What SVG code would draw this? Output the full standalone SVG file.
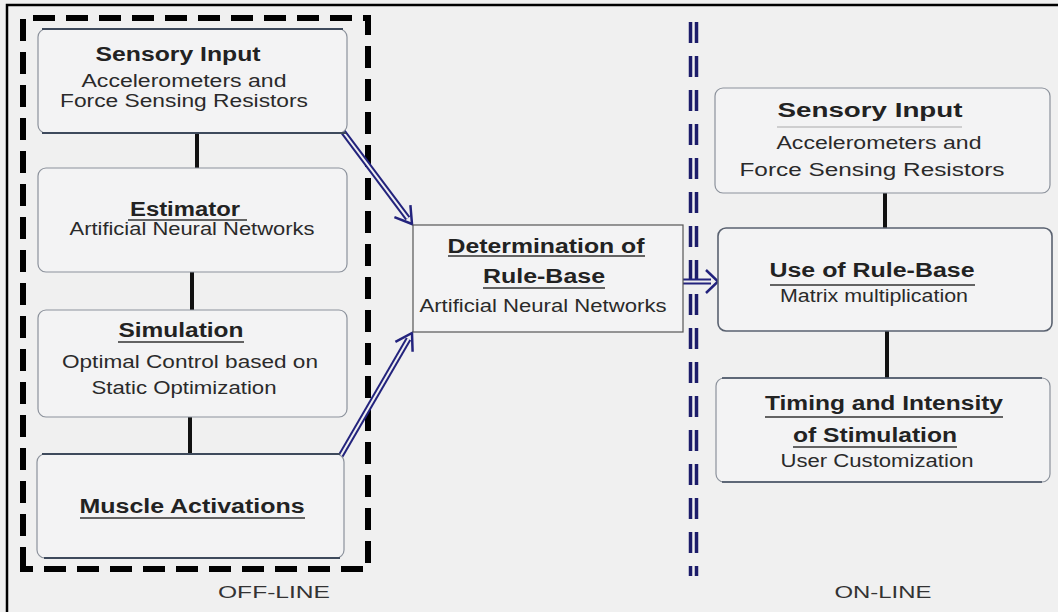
<svg xmlns="http://www.w3.org/2000/svg" width="1058" height="612" viewBox="0 0 1058 612">
<style>
.bg{fill:#f0f0f0}
.box{fill:#f3f3f4;stroke:#8c929c;stroke-width:1.2}
.dark{stroke:#3e4a5c;stroke-width:2;fill:none}
.t{font-family:"Liberation Sans",Arial,sans-serif;fill:#222;text-anchor:middle}
.b{font-weight:bold;font-size:20px}
.r{font-size:17.5px;fill:#2a2a2a}
.ul{stroke:#333;stroke-width:1.5}
.lul{stroke:#aaa;stroke-width:1.2}
.conn{stroke:#111;stroke-width:4}
.shaft{fill:none;stroke:#23237d;stroke-width:6}
.shaftin{fill:none;stroke:#f0f0f0;stroke-width:2}
.head{fill:none;stroke:#23237d;stroke-width:2.5;stroke-linejoin:miter}
.lab{font-family:"Liberation Sans",Arial,sans-serif;font-size:17px;fill:#333;text-anchor:middle}
.div{stroke:#1c1c6a;stroke-width:3.5;stroke-dasharray:21 13}
</style>
<rect class="bg" x="0" y="0" width="1058" height="612"/>
<path d="M7,614 V5 H1060" fill="none" stroke="#000" stroke-width="2.5"/>

<!-- off-line dashed container -->
<path d="M23,569 V18 H368 V569 Z" fill="none" stroke="#000" stroke-width="6" stroke-dasharray="22 11"/>
<!-- on-line divider -->
<g id="divider">
<line class="div" x1="690.5" y1="22" x2="690.5" y2="576"/>
<line class="div" x1="696.5" y1="22" x2="696.5" y2="576"/>
</g>

<g id="connectors">
<line class="conn" x1="197" y1="133" x2="197" y2="168"/>
<line class="conn" x1="192" y1="272" x2="192" y2="310"/>
<line class="conn" x1="190" y1="417" x2="190" y2="454"/>
<line class="conn" x1="885" y1="193" x2="885" y2="228"/>
<line class="conn" x1="887" y1="331" x2="887" y2="378"/>
<!-- arrow 1 -->
<path class="shaft" d="M341,129 L407.8,218.4"/>
<path class="shaftin" d="M339.5,127 L407.8,218.4"/>
<polyline class="head" points="394.4,217.2 412,224 410.4,205.2"/>
<!-- arrow 2 -->
<path class="shaft" d="M340,457 L408.5,339"/>
<path class="shaftin" d="M338.8,459 L408.5,339"/>
<polyline class="head" points="395.4,341.8 412,333 412.6,351.8"/>
<!-- arrow 3 -->
<path class="shaft" d="M683,281.5 H711"/>
<path class="shaftin" d="M681,281.5 H711"/>
<polyline class="head" points="706,270 718,281.5 706,293"/>
</g>

<g id="sensory-left">
<rect class="box" x="38" y="29" width="309" height="104" rx="8"/>
<line class="dark" x1="42" y1="29" x2="343" y2="29"/>
<line class="dark" x1="42" y1="133" x2="346" y2="133"/>
<text class="t b" x="178" y="61" textLength="165" lengthAdjust="spacingAndGlyphs">Sensory Input</text>
<text class="t r" x="184" y="87" textLength="205" lengthAdjust="spacingAndGlyphs">Accelerometers and</text>
<text class="t r" x="184" y="107" textLength="248" lengthAdjust="spacingAndGlyphs">Force Sensing Resistors</text>
</g>

<g id="estimator">
<rect class="box" x="38" y="168" width="309" height="104" rx="8"/>
<text class="t b" x="185" y="216" textLength="110" lengthAdjust="spacingAndGlyphs">Estimator</text>
<line class="ul" x1="128" y1="220" x2="247" y2="220"/>
<text class="t r" x="192" y="235" textLength="245" lengthAdjust="spacingAndGlyphs">Artificial Neural Networks</text>
</g>

<g id="simulation">
<rect class="box" x="38" y="310" width="309" height="107" rx="8"/>
<text class="t b" x="181" y="337" textLength="125" lengthAdjust="spacingAndGlyphs">Simulation</text>
<line class="ul" x1="118" y1="342" x2="244" y2="342"/>
<text class="t r" x="190" y="368" textLength="256" lengthAdjust="spacingAndGlyphs">Optimal Control based on</text>
<text class="t r" x="184" y="394" textLength="185" lengthAdjust="spacingAndGlyphs">Static Optimization</text>
</g>

<g id="muscle">
<rect class="box" x="37" y="454" width="307" height="104" rx="8"/>
<line class="dark" x1="42" y1="454" x2="340" y2="454"/>
<line class="dark" x1="44" y1="558" x2="340" y2="558"/>
<text class="t b" x="192" y="513" textLength="225" lengthAdjust="spacingAndGlyphs">Muscle Activations</text>
<line class="ul" x1="80" y1="518" x2="305" y2="518"/>
</g>

<g id="determination">
<rect x="413" y="225" width="270" height="107" fill="#f3f3f4" stroke="#555" stroke-width="1.2"/>
<text class="t b" x="546" y="253" textLength="197" lengthAdjust="spacingAndGlyphs">Determination of</text>
<line class="ul" x1="448" y1="256" x2="645" y2="256"/>
<text class="t b" x="544" y="283" textLength="122" lengthAdjust="spacingAndGlyphs">Rule-Base</text>
<line class="ul" x1="483" y1="288" x2="605" y2="288"/>
<text class="t r" x="543" y="312" textLength="247" lengthAdjust="spacingAndGlyphs">Artificial Neural Networks</text>
</g>

<g id="sensory-right">
<rect class="box" x="715" y="88" width="335" height="105" rx="8"/>
<text class="t b" x="870" y="117" textLength="185" lengthAdjust="spacingAndGlyphs">Sensory Input</text>
<line class="lul" x1="777" y1="127" x2="962" y2="127"/>
<text class="t r" x="879" y="149" textLength="205" lengthAdjust="spacingAndGlyphs">Accelerometers and</text>
<text class="t r" x="872" y="176" textLength="265" lengthAdjust="spacingAndGlyphs">Force Sensing Resistors</text>
</g>

<g id="use-rule-base">
<rect class="box" x="718" y="228" width="334" height="103" rx="8" style="stroke:#5a6270;stroke-width:1.6"/>
<text class="t b" x="872" y="277" textLength="205" lengthAdjust="spacingAndGlyphs">Use of Rule-Base</text>
<line class="ul" x1="770" y1="285" x2="975" y2="285"/>
<text class="t r" x="874" y="302" textLength="188" lengthAdjust="spacingAndGlyphs">Matrix multiplication</text>
</g>

<g id="timing">
<rect class="box" x="716" y="378" width="334" height="104" rx="8"/>
<line class="dark" x1="722" y1="378" x2="1042" y2="378" style="stroke-width:1.6"/>
<line class="dark" x1="722" y1="482" x2="1042" y2="482" style="stroke-width:1.6"/>
<text class="t b" x="884" y="410" textLength="238" lengthAdjust="spacingAndGlyphs">Timing and Intensity</text>
<line class="ul" x1="765" y1="417" x2="1003" y2="417"/>
<text class="t b" x="875" y="442" textLength="164" lengthAdjust="spacingAndGlyphs">of Stimulation</text>
<line class="ul" x1="793" y1="447" x2="957" y2="447"/>
<text class="t r" x="877" y="467" textLength="193" lengthAdjust="spacingAndGlyphs">User Customization</text>
</g>

<text class="lab" x="274" y="598" textLength="112" lengthAdjust="spacingAndGlyphs">OFF-LINE</text>
<text class="lab" x="883" y="598" textLength="97" lengthAdjust="spacingAndGlyphs">ON-LINE</text>
</svg>
